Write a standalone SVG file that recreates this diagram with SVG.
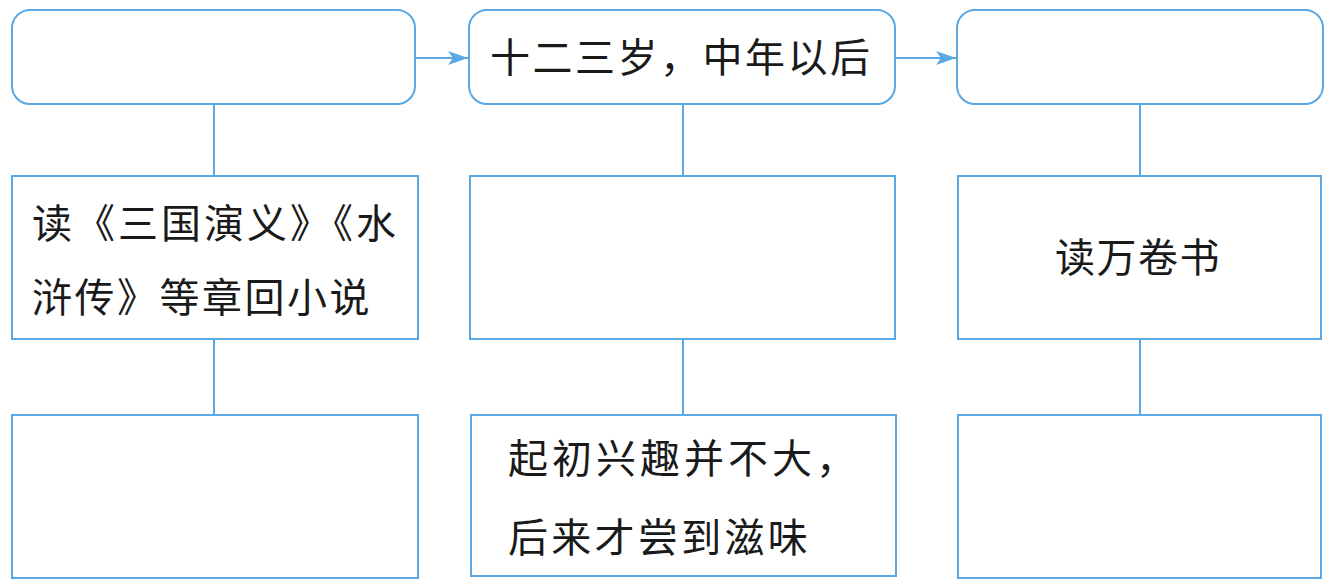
<svg xmlns="http://www.w3.org/2000/svg" width="1337" height="586" viewBox="0 0 1337 586">
<style>
.box{fill:#fff;stroke:#5aa8e4;stroke-width:2}
.ln{stroke:#5aa8e4;stroke-width:2;fill:none}
.t{font-family:"Noto Sans CJK SC","Noto Sans CJK TC",sans-serif;font-size:40px;fill:#1a1a1a}
</style>
<defs>
<marker id="ah" viewBox="0 0 20 14" refX="20" refY="7" markerWidth="20" markerHeight="14" markerUnits="userSpaceOnUse" orient="auto">
<path d="M0,0 L20,7 L0,14 L5,7 Z" fill="#5aa8e4"/>
</marker>
</defs>
<rect width="1337" height="586" fill="#fff"/>
<g id="connectors">
<line class="ln" x1="415" y1="58" x2="468" y2="58" marker-end="url(#ah)"/>
<line class="ln" x1="895" y1="58" x2="956" y2="58" marker-end="url(#ah)"/>
<line class="ln" x1="214" y1="104" x2="214" y2="176"/>
<line class="ln" x1="214" y1="339" x2="214" y2="415"/>
<line class="ln" x1="683" y1="104" x2="683" y2="176"/>
<line class="ln" x1="683" y1="339" x2="683" y2="415"/>
<line class="ln" x1="1140" y1="104" x2="1140" y2="176"/>
<line class="ln" x1="1140" y1="339" x2="1140" y2="415"/>
</g>
<g id="n1"><rect class="box" x="12" y="10" width="403" height="94" rx="18"/></g>
<g id="n2"><rect class="box" x="469" y="10" width="426" height="94" rx="18"/>
<text class="t" x="490" y="72" style="letter-spacing:2.5px">十二三岁，中年以后</text></g>
<g id="n3"><rect class="box" x="957" y="10" width="366" height="94" rx="18"/></g>
<g id="n4"><rect class="box" x="12" y="176" width="406" height="163"/>
<text class="t" x="32" y="238" style="letter-spacing:3px">读《三国演义》《水</text>
<text class="t" x="32" y="312" style="letter-spacing:2.5px">浒传》等章回小说</text></g>
<g id="n5"><rect class="box" x="470" y="176" width="425" height="163"/></g>
<g id="n6"><rect class="box" x="958" y="176" width="363" height="163"/>
<text class="t" x="1055" y="272" style="letter-spacing:1.5px">读万卷书</text></g>
<g id="n7"><rect class="box" x="12" y="415" width="406" height="163"/></g>
<g id="n8"><rect class="box" x="471" y="415" width="425" height="161"/>
<text class="t" x="508" y="473" style="letter-spacing:4px">起初兴趣并不大，</text>
<text class="t" x="508" y="552" style="letter-spacing:3.3px">后来才尝到滋味</text></g>
<g id="n9"><rect class="box" x="958" y="415" width="363" height="163"/></g>
</svg>
